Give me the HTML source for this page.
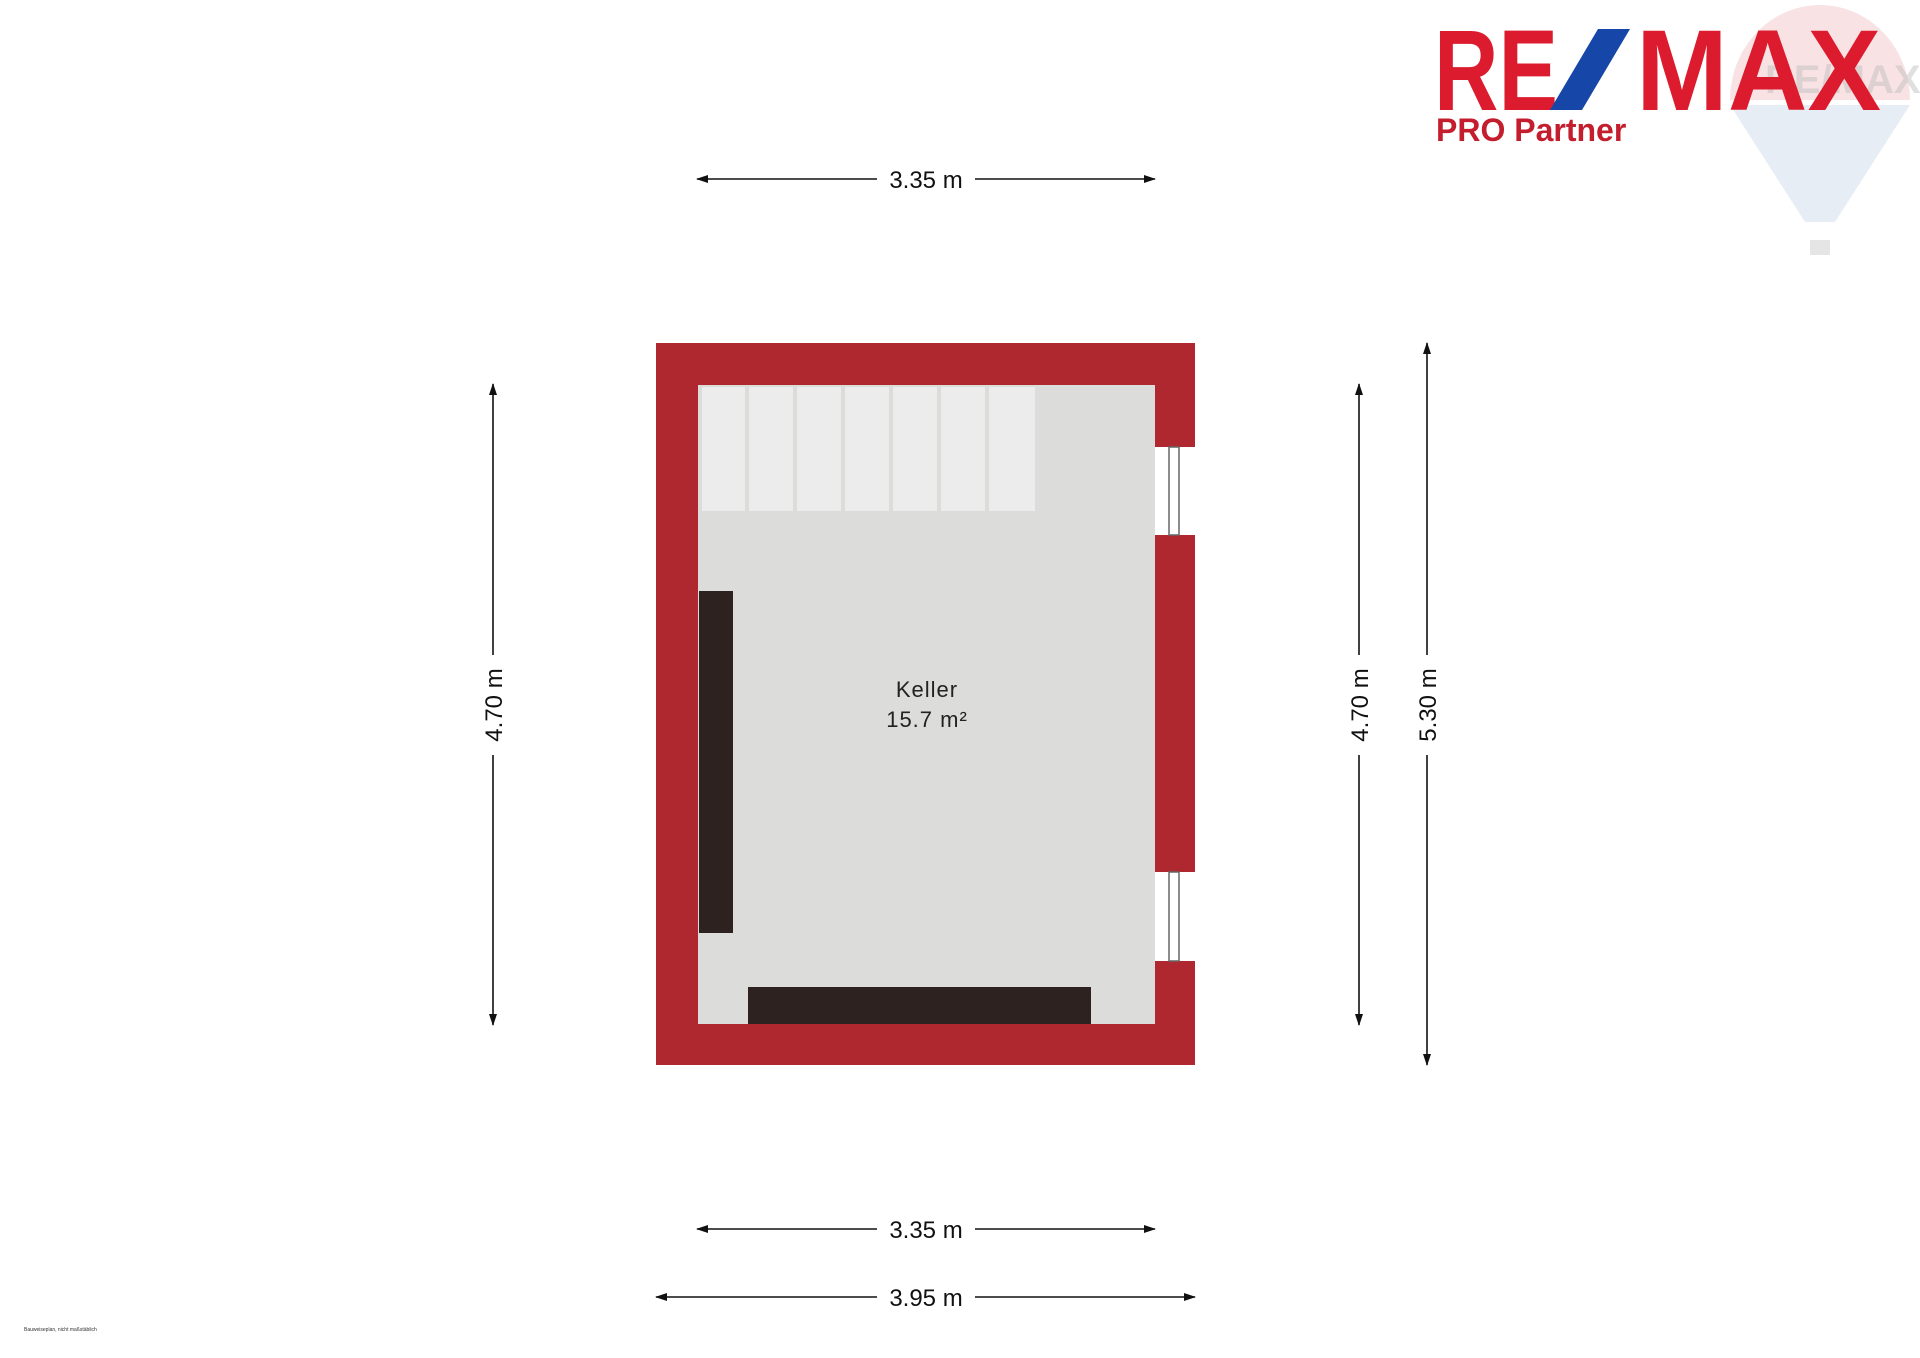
<!DOCTYPE html>
<html><head><meta charset="utf-8"><style>
body{margin:0;width:1920px;height:1358px;background:#fff;overflow:hidden;font-family:"Liberation Sans",sans-serif;}
</style></head><body>
<svg width="1920" height="1358" viewBox="0 0 1920 1358" xmlns="http://www.w3.org/2000/svg" style="position:absolute;left:0;top:0">
<defs>
<marker id="a" markerWidth="12" markerHeight="10" refX="11" refY="5" orient="auto" markerUnits="userSpaceOnUse"><path d="M0,1 L12,5 L0,9 z" fill="#111"/></marker>
<marker id="b" markerWidth="12" markerHeight="10" refX="1" refY="5" orient="auto" markerUnits="userSpaceOnUse"><path d="M12,1 L0,5 L12,9 z" fill="#111"/></marker>
</defs>
<!-- balloon watermark -->
<g opacity="0.3">
<path d="M1730,100 A90,95 0 0 1 1910,100 Z" fill="#eaa0a8"/>
<path d="M1730,105 L1910,105 L1835,222 L1805,222 Z" fill="#b0c4dc"/>
<rect x="1810" y="240" width="20" height="15" fill="#aaa"/>
</g>
<text x="1765" y="93" font-size="40" font-weight="bold" fill="#bbb" opacity="0.45">RE/MAX</text>
<!-- logo -->
<text x="1434" y="110" font-size="115" font-weight="bold" fill="#dc1c2e" textLength="124" lengthAdjust="spacingAndGlyphs">RE</text>
<polygon points="1598,29 1630,29 1582,110 1550,110" fill="#1646a8"/>
<text x="1636" y="110" font-size="115" font-weight="bold" fill="#dc1c2e" textLength="245" lengthAdjust="spacingAndGlyphs">MAX</text>
<text x="1436" y="141" font-size="32" font-weight="bold" fill="#c41e2e">PRO Partner</text>
<!-- room -->
<rect x="656" y="343" width="539" height="722" fill="#b0282f"/>
<rect x="698" y="385" width="457" height="639" fill="#dcdcda"/>
<g fill="#ececec">
<rect x="702" y="387" width="43" height="124"/><rect x="749" y="387" width="44" height="124"/><rect x="797" y="387" width="44" height="124"/><rect x="845" y="387" width="44" height="124"/><rect x="893" y="387" width="44" height="124"/><rect x="941" y="387" width="44" height="124"/><rect x="989" y="387" width="46" height="124"/>
</g>
<rect x="1155" y="447" width="40" height="88" fill="#fff"/>
<rect x="1169" y="447" width="10" height="88" fill="#fff" stroke="#666" stroke-width="1.5"/>
<rect x="1155" y="872" width="40" height="89" fill="#fff"/>
<rect x="1169" y="872" width="10" height="89" fill="#fff" stroke="#666" stroke-width="1.5"/>
<rect x="699" y="591" width="34" height="342" fill="#2e2220"/>
<rect x="748" y="987" width="343" height="37" fill="#2e2220"/>
<text x="927" y="697" font-size="22" text-anchor="middle" fill="#222" letter-spacing="1">Keller</text>
<text x="927" y="727" font-size="22" text-anchor="middle" fill="#222" letter-spacing="1">15.7 m²</text>
<!-- dims -->
<g stroke="#111" stroke-width="1.6" fill="none">
<line x1="697" y1="179" x2="877" y2="179" marker-start="url(#b)"/><line x1="975" y1="179" x2="1155" y2="179" marker-end="url(#a)"/>
<line x1="697" y1="1229" x2="877" y2="1229" marker-start="url(#b)"/><line x1="975" y1="1229" x2="1155" y2="1229" marker-end="url(#a)"/>
<line x1="656" y1="1297" x2="877" y2="1297" marker-start="url(#b)"/><line x1="975" y1="1297" x2="1195" y2="1297" marker-end="url(#a)"/>
<line x1="493" y1="384" x2="493" y2="655" marker-start="url(#b)"/><line x1="493" y1="755" x2="493" y2="1025" marker-end="url(#a)"/>
<line x1="1359" y1="384" x2="1359" y2="655" marker-start="url(#b)"/><line x1="1359" y1="755" x2="1359" y2="1025" marker-end="url(#a)"/>
<line x1="1427" y1="343" x2="1427" y2="655" marker-start="url(#b)"/><line x1="1427" y1="755" x2="1427" y2="1065" marker-end="url(#a)"/>
</g>
<g font-size="24" fill="#111" text-anchor="middle">
<text x="926" y="188">3.35 m</text>
<text x="926" y="1238">3.35 m</text>
<text x="926" y="1306">3.95 m</text>
<text transform="translate(502,705) rotate(-90)">4.70 m</text>
<text transform="translate(1368,705) rotate(-90)">4.70 m</text>
<text transform="translate(1436,705) rotate(-90)">5.30 m</text>
</g>
<text x="24" y="1331" font-size="5" fill="#333">Bauweiseplan, nicht maßstäblich</text>
</svg>
</body></html>
